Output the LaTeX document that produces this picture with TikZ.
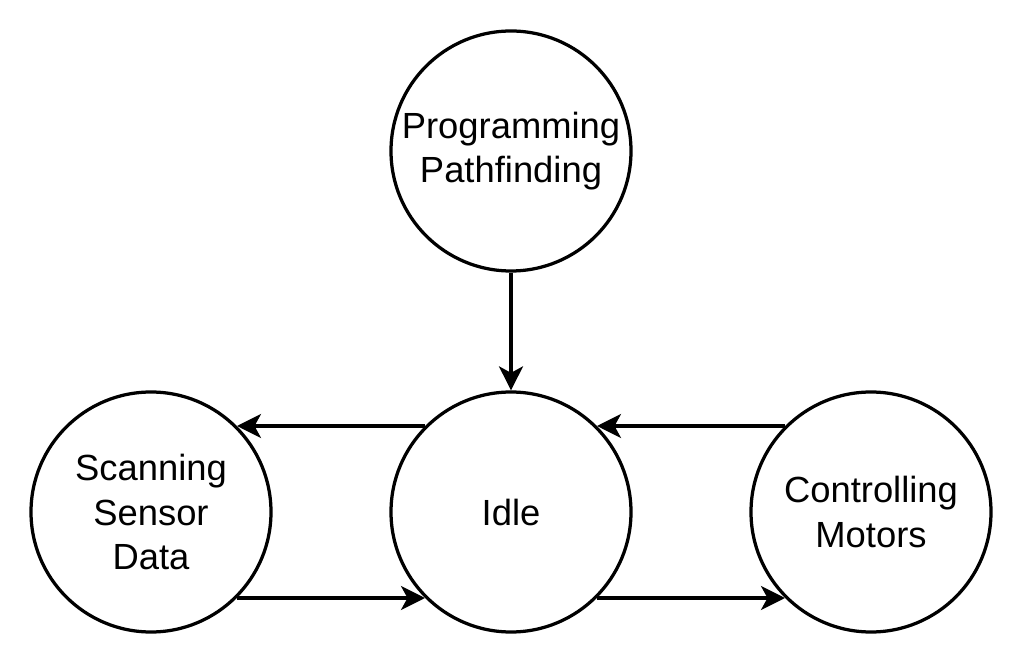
\documentclass[tikz,border=0pt]{standalone}
\usepackage{fontspec}
\setmainfont{Liberation Sans}
\usetikzlibrary{arrows.meta}
\tikzset{
	state/.style={draw, circle, line width=0.065cm, minimum size=4.8cm, inner sep=0pt, align=center, font=\fontsize{20.7}{25.4}\selectfont},
	flow/.style={line width=0.065cm, -{Stealth[length=0.48cm, width=0.48cm, inset=0.13cm]}}
}

\begin{document}
\begin{tikzpicture}
		%%%%% START %%%%%
		
		\useasboundingbox (0, 0) rectangle (20.46, -13.26);
		
		\node[state] (prog) at (10.22, -3.02) {Programming\\Pathfinding};
		\node[state] (idle) at (10.22, -10.24) {Idle};
		\node[state] (scan) at (3.02, -10.24) {Scanning\\Sensor\\Data};
		\node[state] (ctrl) at (17.42, -10.24) {Controlling\\Motors};
		
		\draw[flow] (prog) -- (idle);
		\draw[flow] (idle.135) -- (scan.45);
		\draw[flow] (scan.-45) -- (idle.-135);
		\draw[flow] (ctrl.135) -- (idle.45);
		\draw[flow] (idle.-45) -- (ctrl.-135);
		
		%%%%% END %%%%%
	\end{tikzpicture}
\end{document}
